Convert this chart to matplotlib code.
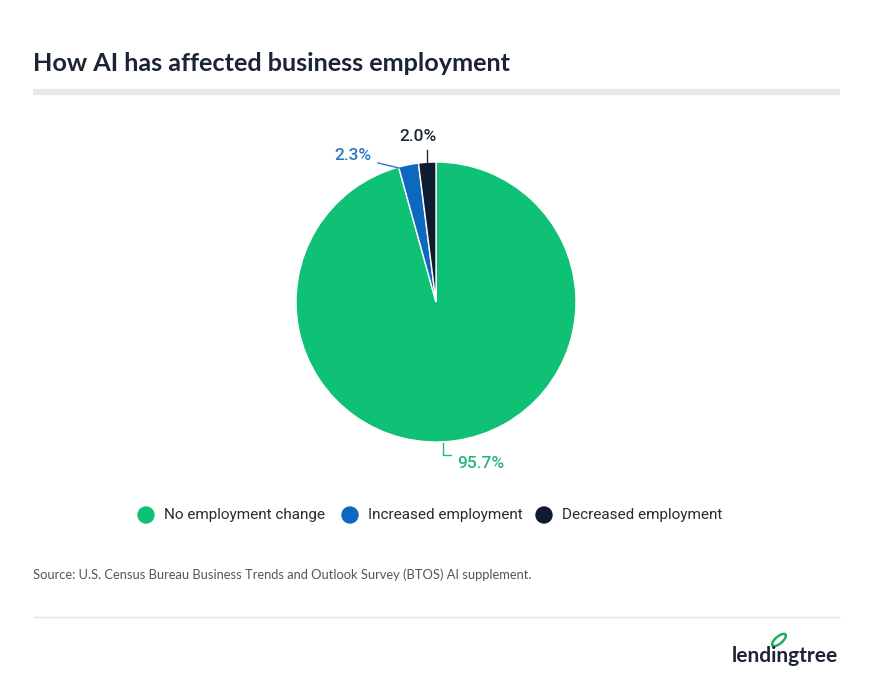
import matplotlib.pyplot as plt
import matplotlib.patches as mpatches
import numpy as np

# data
labels = ['No employment change', 'Increased employment', 'Decreased employment']
values = [95.7, 2.3, 2.0]
colors = ['#0ec174', '#0d69bd', '#0f1b2e']
label_colors = ['#22b978', '#2f78bd', '#1c2636']

title = 'How AI has affected business employment'
source = 'Source: U.S. Census Bureau Business Trends and Outlook Survey (BTOS) AI supplement.'

W, H = 873, 684
fig = plt.figure(figsize=(W / 100, H / 100), dpi=100)
fig.patch.set_facecolor('white')

def fx(px):
    return px / W

def fy(py):
    return 1 - py / H

# title + rules
fig.text(fx(33), fy(71), title, fontsize=18.2, fontweight='bold', family='Lato',
         color='#1b2433', va='baseline')
fig.add_artist(plt.Line2D([fx(33), fx(840)], [fy(92), fy(92)], color='#e8e8e8', lw=4.5,
                          solid_capstyle='butt'))
fig.add_artist(plt.Line2D([fx(33), fx(840)], [fy(617), fy(617)], color='#e2e2e2', lw=1,
                          solid_capstyle='butt'))

# pie
cx, cy, r = 436, 302, 140
ax = fig.add_axes([fx(cx - r), fy(cy + r), 2 * r / W, 2 * r / H])
wedges, _ = ax.pie(values, colors=colors, startangle=90, counterclock=False,
                   wedgeprops=dict(edgecolor='white', linewidth=1.0))
ax.set_xlim(-1, 1)
ax.set_ylim(-1, 1)
ax.set_aspect('equal')
ax.axis('off')

# leader lines (pie data coords) and label anchors
leaders = [
    [(0.05, -1.007), (0.05, -1.093), (0.107, -1.093)],
    [(-0.264, 0.957), (-0.414, 0.993)],
    [(-0.064, 1.0), (-0.064, 1.086)],
]
text_pos = [(0.155, -1.155), (-0.462, 1.043), (-0.13, 1.18)]
text_ha = ['left', 'right', 'center']
for i, v in enumerate(values):
    pts = np.array(leaders[i])
    ax.plot(pts[:, 0], pts[:, 1], color=label_colors[i], lw=1, clip_on=False)
    ax.text(text_pos[i][0], text_pos[i][1], f'{v:.1f}%', color=label_colors[i],
            fontsize=12.5, family='Roboto', fontweight='medium',
            ha=text_ha[i], va='center', clip_on=False)

# legend
leg_x = [146, 350, 544]
for i, lab in enumerate(labels):
    fig.add_artist(mpatches.Ellipse((fx(leg_x[i]), fy(515)), 16 / W, 16 / H,
                                    color=colors[i], transform=fig.transFigure))
    fig.text(fx(leg_x[i] + 18), fy(515), lab, fontsize=11, family='Roboto',
             color='#2b2b2b', va='center')

# source
fig.text(fx(33), fy(575), source, fontsize=9.3, family='Lato', color='#555555', va='center')

# logo
fig.text(fx(838), fy(656), 'lendingtree', fontsize=15, family='Lato', fontweight='bold',
         color='#1d2433', ha='right', va='center')
leaf = mpatches.Ellipse((fx(779), fy(640)), 8 / W, 15 / H, angle=-40,
                        facecolor='none', edgecolor='#1fae5e', lw=1.8,
                        transform=fig.transFigure)
fig.add_artist(leaf)

fig.savefig('out.png', dpi=100, facecolor='white')
